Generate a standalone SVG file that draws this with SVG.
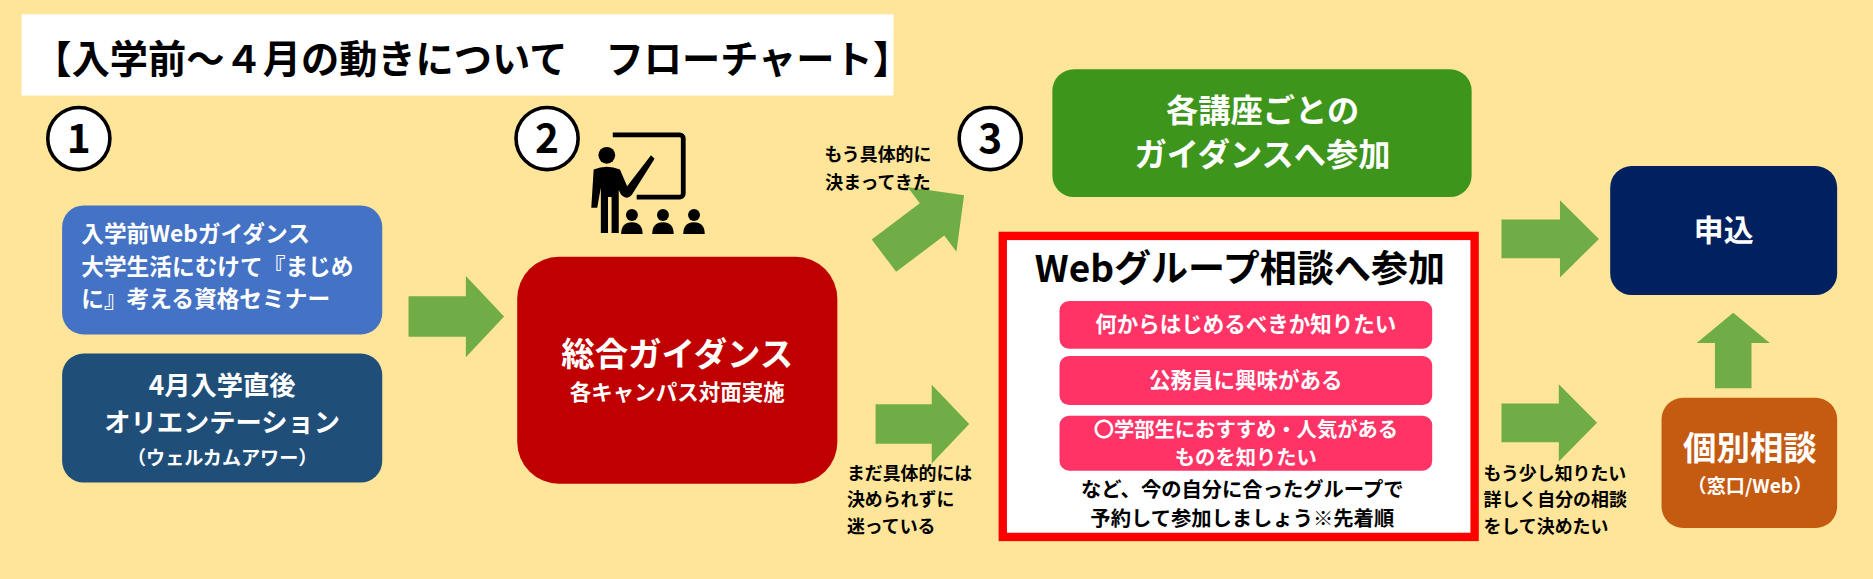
<svg xmlns="http://www.w3.org/2000/svg" width="1873" height="579" viewBox="0 0 1873 579">
<style>
text{font-family:"Noto Sans CJK JP","Noto Sans",sans-serif;font-weight:bold}
.w{fill:#fff}.b{fill:#000}.c{text-anchor:middle}
.arr{fill:#70AD47}
.num{fill:#fff;stroke:#000;stroke-width:3}
</style>
<defs>
<polygon id="ra" points="0,-17 48,-17 48,-34 80,0 48,34 48,17 0,17"/>
</defs>
<rect width="1873" height="579" fill="#FEE599"/>
<g transform="scale(1.1945)">
<g id="title"><rect x="18" y="12" width="730" height="68" fill="#fff"/>
<text x="28" y="61" font-size="32" class="b">【入学前～４月の動きについて　フローチャート】</text></g>
<g id="n1"><circle cx="66" cy="116" r="26" class="num"/><text x="66" y="128" font-size="34" class="c b">1</text></g>
<g id="n2"><circle cx="458" cy="116" r="26" class="num"/><text x="458" y="128" font-size="34" class="c b">2</text></g>
<g id="n3"><circle cx="829" cy="116" r="26" class="num"/><text x="829" y="128" font-size="34" class="c b">3</text></g>
<g id="icon" fill="#000">
<path d="M513,113 h56 a3,3 0 0 1 3,3 v46 a3,3 0 0 1-3,3 h-36" fill="none" stroke="#000" stroke-width="4"/>
<circle cx="508" cy="130" r="7"/>
<path d="M497,142 q11,-5 22,0 l6,14 l20,-26 l3,3 l-19,30 q-4,5-9,0 l-2,-4 v36 h-6 v-30 h-3 v30 h-6 v-38 l-3,17 h-5 z"/>
<circle cx="529" cy="180" r="5"/><path d="M520,196 q0,-10 9,-10 q9,0 9,10z"/>
<circle cx="555" cy="180" r="5"/><path d="M546,196 q0,-10 9,-10 q9,0 9,10z"/>
<circle cx="581" cy="180" r="5"/><path d="M572,196 q0,-10 9,-10 q9,0 9,10z"/>
</g>
<g id="box1"><rect x="52" y="172" width="268" height="108" rx="18" fill="#4472C4"/>
<text x="68" y="203" font-size="19" class="w">入学前Webガイダンス</text>
<text x="68" y="230" font-size="19" class="w">大学生活にむけて『まじめ</text>
<text x="68" y="257" font-size="19" class="w">に』考える資格セミナー</text></g>
<g id="box2"><rect x="52" y="296" width="268" height="108" rx="18" fill="#1F4E79"/>
<text x="186" y="331" font-size="22" class="c w">4月入学直後</text>
<text x="186" y="362" font-size="22" class="c w">オリエンテーション</text>
<text x="186" y="389" font-size="16" class="c w">（ウェルカムアワー）</text></g>
<g id="red"><rect x="433" y="215" width="268" height="190" rx="35" fill="#C00000"/>
<text x="567" y="306" font-size="28" class="c w">総合ガイダンス</text>
<text x="567" y="335" font-size="18" class="c w">各キャンパス対面実施</text></g>
<g id="green"><rect x="881" y="58" width="351" height="107" rx="18" fill="#3D951B"/>
<text x="1057" y="102" font-size="27" class="c w">各講座ごとの</text>
<text x="1057" y="139" font-size="27" class="c w">ガイダンスへ参加</text></g>
<g id="web"><rect x="839.5" y="197.5" width="395" height="252" fill="#fff" stroke="#FF0000" stroke-width="7"/>
<text x="1038" y="236" font-size="31" class="c b">Webグループ相談へ参加</text>
<rect x="887" y="252" width="312" height="40" rx="8" fill="#FF3366"/>
<text x="1043" y="278" font-size="18" class="c w">何からはじめるべきか知りたい</text>
<rect x="887" y="298" width="312" height="41" rx="8" fill="#FF3366"/>
<text x="1043" y="325" font-size="18" class="c w">公務員に興味がある</text>
<rect x="887" y="348" width="312" height="46" rx="8" fill="#FF3366"/>
<text x="1043" y="366" font-size="17" class="c w">〇学部生におすすめ・人気がある</text>
<text x="1043" y="389" font-size="17" class="c w">ものを知りたい</text>
<text x="1040" y="416" font-size="17" class="c b">など、今の自分に合ったグループで</text>
<text x="1040" y="440" font-size="17" class="c b">予約して参加しましょう※先着順</text></g>
<g id="apply"><rect x="1348" y="139" width="190" height="108" rx="18" fill="#002060"/>
<text x="1443" y="202" font-size="25" class="c w">申込</text></g>
<g id="kobetsu"><rect x="1391" y="333" width="147" height="109" rx="18" fill="#C55A11"/>
<text x="1465" y="385" font-size="28" class="c w">個別相談</text>
<text x="1465" y="413" font-size="16" class="c w">（窓口/Web）</text></g>
<g id="connectors" class="arr">
<use href="#ra" transform="translate(342,265)"/>
<use href="#ra" transform="translate(733,355) scale(0.98,0.97)"/>
<use href="#ra" transform="translate(1257,200) scale(1.02,0.95)"/>
<use href="#ra" transform="translate(1257,354) scale(1,0.95)"/>
<use href="#ra" transform="translate(740,214) rotate(-37) scale(1.05,1.0)"/>
<use href="#ra" transform="translate(1451,325) rotate(-90) scale(0.79,0.9)"/>
</g>
<g id="labels">
<text x="735" y="135" font-size="15" class="c b">もう具体的に</text>
<text x="735" y="158" font-size="15" class="c b">決まってきた</text>
<text x="709" y="402" font-size="15" class="b">まだ具体的には</text>
<text x="709" y="424" font-size="15" class="b">決められずに</text>
<text x="709" y="446" font-size="15" class="b">迷っている</text>
<text x="1242" y="402" font-size="15" class="b">もう少し知りたい</text>
<text x="1242" y="424" font-size="15" class="b">詳しく自分の相談</text>
<text x="1242" y="446" font-size="15" class="b">をして決めたい</text>
</g>
</g>
</svg>
